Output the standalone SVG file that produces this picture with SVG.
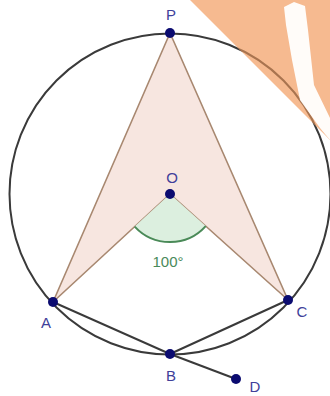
<svg xmlns="http://www.w3.org/2000/svg" width="330" height="396" viewBox="0 0 330 396">
<style>
.pt{fill:#0b0b70}
.lbl{font-family:"Liberation Sans",Arial,sans-serif;font-size:15px;fill:#40409a;text-anchor:middle}
.seg{stroke:#3a3a3a;stroke-width:2;fill:none}
</style>
<defs>
<clipPath id="tri"><polygon points="190,0 330,0 330,140"/></clipPath>
</defs>
<rect width="330" height="396" fill="#ffffff"/>
<g id="dart">
<polygon points="170,33 53,302 170,194 288,300" fill="#f7e6e0" stroke="#a88870" stroke-width="1.6" stroke-linejoin="round"/>
</g>
<g id="angle">
<path d="M170,194 L134.7,226.6 A48,48 0 0 0 205.7,226.1 Z" fill="#dcefdf" stroke="none"/>
<path d="M134.7,226.6 A48,48 0 0 0 205.7,226.1" fill="none" stroke="#4a8a58" stroke-width="2"/>
<text x="168" y="267" style="font-family:'Liberation Sans',Arial,sans-serif;font-size:15px;fill:#4a8a5a;text-anchor:middle">100°</text>
</g>
<g id="connectors">
<circle cx="170" cy="194" r="160.5" class="seg"/>
<line x1="53" y1="302" x2="170" y2="354" class="seg"/>
<line x1="170" y1="354" x2="288" y2="300" class="seg"/>
<line x1="170" y1="354" x2="236" y2="379" class="seg"/>
</g>
<g id="P"><circle cx="170" cy="33" r="5" class="pt"/><text x="171" y="20" class="lbl">P</text></g>
<g id="O"><circle cx="170" cy="194" r="5" class="pt"/><text x="172" y="183" class="lbl">O</text></g>
<g id="A"><circle cx="53" cy="302" r="5" class="pt"/><text x="46" y="328" class="lbl">A</text></g>
<g id="C"><circle cx="288" cy="300" r="5" class="pt"/><text x="302" y="317" class="lbl">C</text></g>
<g id="B"><circle cx="170" cy="354" r="5" class="pt"/><text x="171" y="381" class="lbl">B</text></g>
<g id="D"><circle cx="236" cy="379" r="5" class="pt"/><text x="255" y="392" class="lbl">D</text></g>
<g id="watermark">
<polygon points="190,0 330,0 330,140" fill="#f5b284" opacity="0.9"/>
<circle cx="170" cy="194" r="160.5" fill="none" stroke="#7a4a2a" stroke-width="2" opacity="0.55" clip-path="url(#tri)"/>
<polygon points="284,7 294,2 305,6 308,30 314,85 330,118 330,140 320,128 300,100 292,60 286,25" fill="#ffffff" opacity="0.95"/>
</g>
</svg>
